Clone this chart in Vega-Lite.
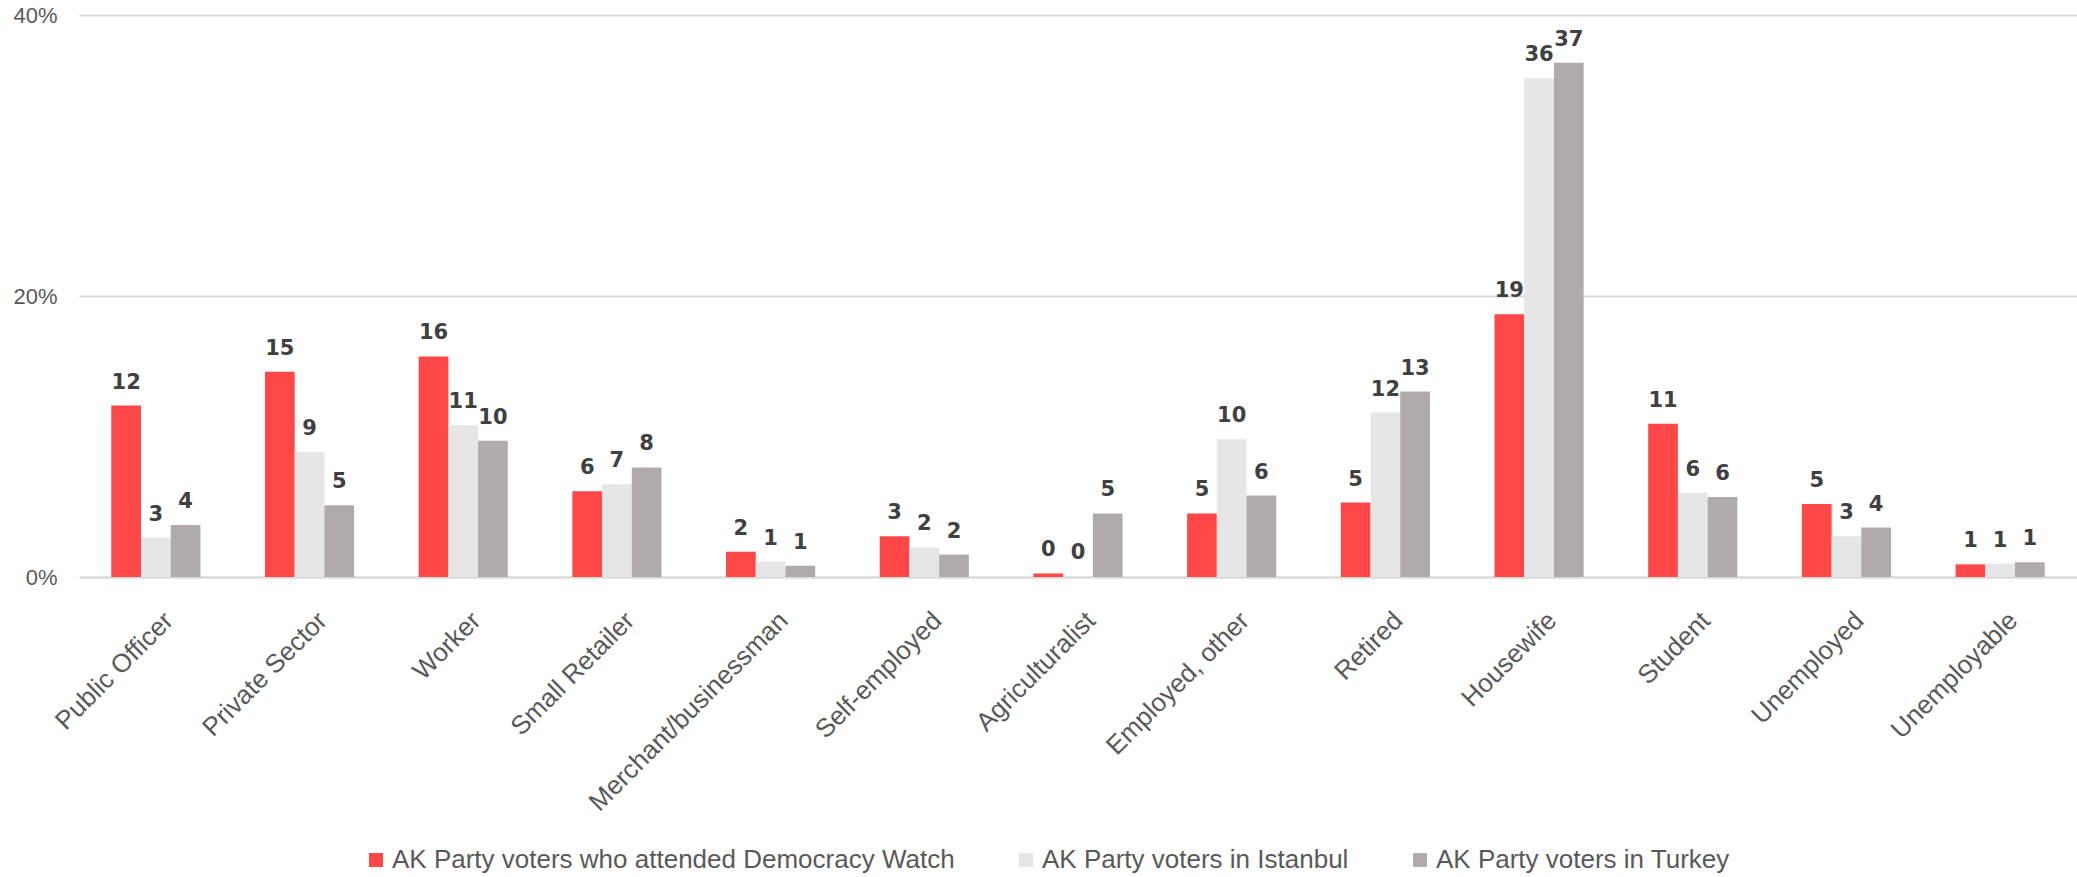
{
  "$schema": "https://vega.github.io/schema/vega-lite/v6.json",
  "width": 1998,
  "height": 562,
  "autosize": {"type": "none"},
  "padding": {"left": 79, "top": 15, "right": 0, "bottom": 300},
  "background": "white",
  "config": {
    "view": {"stroke": null},
    "font": "Liberation Sans"
  },
  "data": {
    "values": [
      {"cat": "Public Officer", "series": "AK Party voters who attended Democracy Watch", "value": 12.2},
      {"cat": "Public Officer", "series": "AK Party voters in Istanbul", "value": 2.8},
      {"cat": "Public Officer", "series": "AK Party voters in Turkey", "value": 3.7},
      {"cat": "Private Sector", "series": "AK Party voters who attended Democracy Watch", "value": 14.6},
      {"cat": "Private Sector", "series": "AK Party voters in Istanbul", "value": 8.9},
      {"cat": "Private Sector", "series": "AK Party voters in Turkey", "value": 5.1},
      {"cat": "Worker", "series": "AK Party voters who attended Democracy Watch", "value": 15.7},
      {"cat": "Worker", "series": "AK Party voters in Istanbul", "value": 10.8},
      {"cat": "Worker", "series": "AK Party voters in Turkey", "value": 9.7},
      {"cat": "Small Retailer", "series": "AK Party voters who attended Democracy Watch", "value": 6.1},
      {"cat": "Small Retailer", "series": "AK Party voters in Istanbul", "value": 6.6},
      {"cat": "Small Retailer", "series": "AK Party voters in Turkey", "value": 7.8},
      {"cat": "Merchant/businessman", "series": "AK Party voters who attended Democracy Watch", "value": 1.8},
      {"cat": "Merchant/businessman", "series": "AK Party voters in Istanbul", "value": 1.1},
      {"cat": "Merchant/businessman", "series": "AK Party voters in Turkey", "value": 0.8},
      {"cat": "Self-employed", "series": "AK Party voters who attended Democracy Watch", "value": 2.9},
      {"cat": "Self-employed", "series": "AK Party voters in Istanbul", "value": 2.1},
      {"cat": "Self-employed", "series": "AK Party voters in Turkey", "value": 1.6},
      {"cat": "Agriculturalist", "series": "AK Party voters who attended Democracy Watch", "value": 0.25},
      {"cat": "Agriculturalist", "series": "AK Party voters in Istanbul", "value": 0.05},
      {"cat": "Agriculturalist", "series": "AK Party voters in Turkey", "value": 4.52},
      {"cat": "Employed, other", "series": "AK Party voters who attended Democracy Watch", "value": 4.52},
      {"cat": "Employed, other", "series": "AK Party voters in Istanbul", "value": 9.8},
      {"cat": "Employed, other", "series": "AK Party voters in Turkey", "value": 5.8},
      {"cat": "Retired", "series": "AK Party voters who attended Democracy Watch", "value": 5.3},
      {"cat": "Retired", "series": "AK Party voters in Istanbul", "value": 11.7},
      {"cat": "Retired", "series": "AK Party voters in Turkey", "value": 13.2},
      {"cat": "Housewife", "series": "AK Party voters who attended Democracy Watch", "value": 18.7},
      {"cat": "Housewife", "series": "AK Party voters in Istanbul", "value": 35.5},
      {"cat": "Housewife", "series": "AK Party voters in Turkey", "value": 36.6},
      {"cat": "Student", "series": "AK Party voters who attended Democracy Watch", "value": 10.9},
      {"cat": "Student", "series": "AK Party voters in Istanbul", "value": 6.0},
      {"cat": "Student", "series": "AK Party voters in Turkey", "value": 5.7},
      {"cat": "Unemployed", "series": "AK Party voters who attended Democracy Watch", "value": 5.2},
      {"cat": "Unemployed", "series": "AK Party voters in Istanbul", "value": 2.9},
      {"cat": "Unemployed", "series": "AK Party voters in Turkey", "value": 3.52},
      {"cat": "Unemployable", "series": "AK Party voters who attended Democracy Watch", "value": 0.9},
      {"cat": "Unemployable", "series": "AK Party voters in Istanbul", "value": 0.95},
      {"cat": "Unemployable", "series": "AK Party voters in Turkey", "value": 1.05}
    ]
  },
  "encoding": {
    "x": {
      "field": "cat",
      "type": "nominal",
      "sort": ["Public Officer", "Private Sector", "Worker", "Small Retailer", "Merchant/businessman", "Self-employed", "Agriculturalist", "Employed, other", "Retired", "Housewife", "Student", "Unemployed", "Unemployable"],
      "scale": {"paddingInner": 0.42, "paddingOuter": 0.21},
      "axis": {
        "title": null,
        "labelAngle": -45,
        "labelAlign": "right",
        "labelBaseline": "top",
        "labelFontSize": 26,
        "labelColor": "#595959",
        "labelPadding": 30,
        "labelOffset": 4,
        "labelLimit": 600,
        "ticks": false,
        "domainColor": "#D9D9D9",
        "domainWidth": 2,
        "grid": false
      }
    },
    "xOffset": {
      "field": "series",
      "type": "nominal",
      "sort": ["AK Party voters who attended Democracy Watch", "AK Party voters in Istanbul", "AK Party voters in Turkey"],
      "scale": {"paddingInner": 0, "paddingOuter": 0}
    },
    "y": {
      "field": "value",
      "type": "quantitative",
      "scale": {"domain": [0, 40], "nice": false},
      "axis": {
        "title": null,
        "values": [0, 20, 40],
        "labelExpr": "datum.value + '%'",
        "labelFontSize": 22,
        "labelColor": "#595959",
        "labelPadding": 22,
        "ticks": false,
        "domain": false,
        "grid": true,
        "gridColor": "#D9D9D9",
        "gridWidth": 2
      }
    }
  },
  "layer": [
    {
      "mark": {"type": "bar"},
      "encoding": {
        "color": {
          "field": "series",
          "type": "nominal",
          "sort": ["AK Party voters who attended Democracy Watch", "AK Party voters in Istanbul", "AK Party voters in Turkey"],
          "scale": {
            "domain": ["AK Party voters who attended Democracy Watch", "AK Party voters in Istanbul", "AK Party voters in Turkey"],
            "range": ["#FF4747", "#E6E6E6", "#AFABAB"]
          },
          "legend": {
            "title": null,
            "orient": "none",
            "direction": "horizontal",
            "legendX": 284,
            "legendY": 832,
            "symbolType": "square",
            "symbolSize": 196,
            "symbolStrokeWidth": 0,
            "labelFontSize": 26,
            "labelColor": "#595959",
            "labelOffset": 3,
            "columnPadding": 58,
            "labelLimit": 1000
          }
        }
      }
    },
    {
      "mark": {"type": "text", "baseline": "alphabetic", "dy": -17, "fontWeight": "bold", "fontSize": 21, "font": "DejaVu Sans", "color": "#404040"},
      "encoding": {
        "text": {"field": "value", "type": "quantitative", "format": ".0f"}
      }
    }
  ]
}
